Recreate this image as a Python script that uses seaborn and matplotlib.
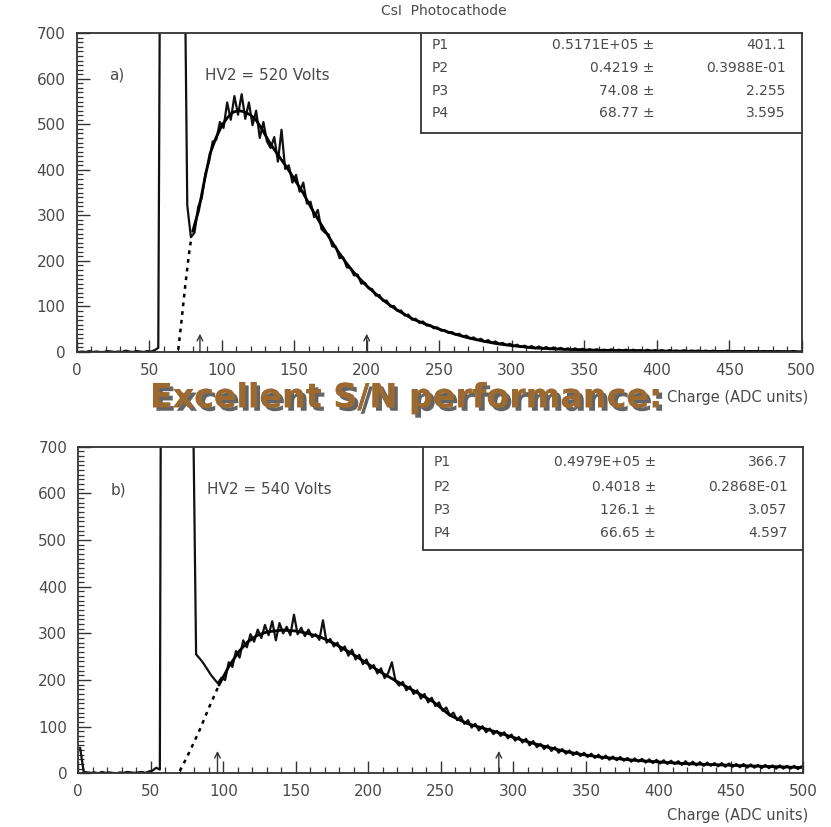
import numpy as np
import matplotlib
matplotlib.use("Agg")
import matplotlib.pyplot as plt
import matplotlib.patheffects as pe
from matplotlib.patches import Rectangle
from matplotlib.ticker import MultipleLocator
import seaborn as sns

# ---------------- data ----------------
bin_width = 2.5
# top panel (HV2 = 520 V): counts per 2.5-ADC bin, 0..500
top_counts = [0, 1, 0, 2, 0, 1, 0, 0, 2, 1, 0, 1, 0, 3, 1, 0, 2, 1, 0, 2, 1, 4, 9,
              1800, 5200, 7000, 6400, 4200, 2500, 1100,
              322, 252, 262, 318, 338, 392, 418, 462, 466, 505,
              492, 548, 510, 562, 521, 566, 512, 548, 498, 530,
              470, 505, 462, 448, 472, 418, 488, 402, 410, 372,
              389, 352, 372, 326, 330, 296, 312, 270, 262, 258,
              232, 231, 206, 208, 186, 184, 168, 170, 150, 152,
              140, 138, 124, 125, 112, 113, 100, 101, 90, 91,
              80, 82, 71, 73, 64, 67, 58, 59, 52, 54,
              47, 48, 42, 44, 38, 40, 34, 36, 30, 32,
              26, 29, 23, 26, 20, 23, 18, 20, 15, 18,
              13, 16, 11, 14, 10, 13, 8, 12, 7, 11,
              6, 10, 6, 9, 5, 8, 4, 8, 4, 7, 3,
              6, 3, 6, 2, 5, 3, 6, 2, 5, 3, 5, 2, 5, 3, 4, 2, 5, 2, 4,
              2, 4, 1, 4, 2, 3, 1, 4, 1, 3, 2, 3, 1, 3, 1, 3, 1, 2, 1, 3,
              1, 2, 1, 2, 0, 2, 1, 2, 0, 2, 1, 2, 0, 2, 1, 1, 0, 2, 1]
# bottom panel (HV2 = 540 V)
bot_counts = [55, 3, 2, 1, 2, 0, 3, 1, 2, 1, 0, 2, 1, 3, 2, 1, 2, 3, 1, 4, 6, 12, 8,
              3000, 8000, 9000, 7000, 5000, 3500, 2200, 1400, 900,
              255, 246, 236, 224, 212, 202, 193, 205,
              200, 238, 228, 262, 248, 285, 270, 298, 282, 308,
              290, 318, 296, 326, 285, 322, 300, 314, 296, 340,
              298, 312, 294, 308, 292, 298, 286, 328, 280, 288,
              272, 280, 262, 272, 252, 265, 244, 254, 234, 244,
              224, 232, 214, 225, 204, 215, 238, 198, 188, 196,
              178, 186, 170, 178, 160, 170, 152, 162, 144, 152,
              134, 141, 124, 130, 114, 122, 106, 114, 98, 106,
              92, 101, 88, 96, 84, 91, 80, 88, 75, 83,
              70, 78, 66, 74, 60, 69, 56, 63, 52, 60,
              48, 56, 44, 52, 42, 49, 39, 46, 37, 44,
              35, 42, 33, 40, 31, 38, 29, 36, 28, 35,
              27, 33, 25, 32, 25, 31, 23, 30, 22, 29,
              21, 28, 20, 27, 20, 26, 18, 26, 18, 25,
              17, 24, 16, 23, 16, 22, 15, 22, 14, 21,
              14, 20, 13, 20, 12, 19, 12, 18, 11, 18,
              11, 17, 10, 17, 10, 16, 10, 16, 9, 15]

# fit curves
top_fit_x = [70, 72, 75, 78, 80, 84, 88, 92, 96, 100, 104, 108, 112, 116, 120, 124, 128,
             133, 139, 145, 150, 156, 162, 168, 174, 180, 186, 191, 200, 209, 215, 221,
             232, 240, 250, 260, 270, 280, 290, 300, 315, 330, 350, 375, 400, 450, 500]
top_fit_y = [5, 60, 150, 230, 265, 310, 375, 436, 470, 497, 515, 527, 530, 527, 520, 508, 488,
             460, 432, 405, 380, 350, 315, 283, 252, 222, 195, 175, 145, 120, 105, 92,
             72, 62, 50, 40, 31, 24, 18, 14, 9, 6.5, 4.5, 3, 2, 1, 0.5]
top_fit_start = 79

bot_fit_x = [70, 75, 80, 84, 90, 97, 104, 111, 117, 123, 130, 141, 150, 158, 167, 176, 188,
             199, 210, 222, 233, 245, 256, 268, 280, 291, 302, 314, 325, 337, 348, 360,
             383, 417, 452, 493, 500]
bot_fit_y = [5, 35, 68, 95, 140, 189, 230, 262, 282, 295, 303, 307, 305, 300, 292, 279, 258,
             236, 214, 193, 174, 153, 125, 107, 96, 86, 75, 64, 55, 46, 40, 35,
             28, 21, 17, 13, 12.5]
bot_fit_start = 97

top_arrows = [85, 200]
bot_arrows = [96, 290]

top_params = [("P1", "0.5171E+05 \u00b1", "401.1"),
              ("P2", "0.4219 \u00b1", "0.3988E-01"),
              ("P3", "74.08 \u00b1", "2.255"),
              ("P4", "68.77 \u00b1", "3.595")]
bot_params = [("P1", "0.4979E+05 \u00b1", "366.7"),
              ("P2", "0.4018 \u00b1", "0.2868E-01"),
              ("P3", "126.1 \u00b1", "3.057"),
              ("P4", "66.65 \u00b1", "4.597")]

x_ticks = [0, 50, 100, 150, 200, 250, 300, 350, 400, 450, 500]
y_ticks = [0, 100, 200, 300, 400, 500, 600, 700]

# ---------------- plotting ----------------
sns.set_style("white")
plt.rcParams['font.family'] = ['DejaVu Sans']

fig = plt.figure(figsize=(8.31, 8.27), dpi=100)
ax1 = fig.add_axes([0.0923, 0.5744, 0.8725, 0.3854])
ax2 = fig.add_axes([0.0942, 0.0649, 0.8725, 0.3950])

grey = '#4a4a4a'


def draw_panel(ax, counts, fx, fy, fstart, arrows, params, tag, hv, rows_y, box_bottom,
               arrow_h):
    centers = np.arange(len(counts)) * bin_width + bin_width / 2
    sns.lineplot(x=centers, y=counts, ax=ax, color='#111111', lw=1.6,
                 estimator=None, sort=False)
    fx = np.asarray(fx, dtype=float)
    fy = np.asarray(fy, dtype=float)
    d = fx <= fstart
    fx_d = np.append(fx[d], fstart)
    fy_d = np.append(fy[d], np.interp(fstart, fx, fy))
    sns.lineplot(x=fx_d, y=fy_d, ax=ax, color='black', lw=1.8,
                 linestyle=(0, (1.5, 2.0)), estimator=None, sort=False)
    sns.lineplot(x=fx[fx >= fstart], y=fy[fx >= fstart], ax=ax, color='black', lw=2.0,
                 estimator=None, sort=False)
    ax.set_xlim(0, 500)
    ax.set_ylim(0, 700)
    ax.set_xticks(x_ticks)
    ax.set_yticks(y_ticks)
    ax.xaxis.set_minor_locator(MultipleLocator(10))
    ax.yaxis.set_minor_locator(MultipleLocator(10))
    ax.tick_params(which='both', bottom=True, left=True, top=False, right=False)
    ax.tick_params(which='major', direction='in', length=9, width=1.0, colors='#333333',
                   labelcolor=grey, labelsize=11, pad=8)
    ax.tick_params(which='minor', direction='in', length=4, width=0.9, colors='#333333')
    ax.set_xlabel('')
    ax.set_ylabel('')
    for sp in ax.spines.values():
        sp.set_color('#333333')
        sp.set_linewidth(1.3)
    for a in arrows:
        ax.annotate('', xy=(a, arrow_h), xytext=(a, 0),
                    arrowprops=dict(arrowstyle='->', lw=1.0, color='#333333',
                                    shrinkA=0, shrinkB=0))
    ax.text(0.045, 0.868, tag, transform=ax.transAxes, fontsize=11, color=grey,
            va='center', ha='left')
    ax.text(0.177, 0.868, hv, transform=ax.transAxes, fontsize=11, color=grey,
            va='center', ha='left')
    ax.add_patch(Rectangle((0.475, box_bottom), 0.525, 1 - box_bottom,
                           transform=ax.transAxes, fill=True, facecolor='white',
                           edgecolor='#333333', lw=1.3, zorder=5))
    for (p, v, e), yy in zip(params, rows_y):
        ax.text(0.49, yy, p, transform=ax.transAxes, fontsize=10, color=grey,
                va='center', ha='left', zorder=6)
        ax.text(0.797, yy, v, transform=ax.transAxes, fontsize=10, color=grey,
                va='center', ha='right', zorder=6)
        ax.text(0.978, yy, e, transform=ax.transAxes, fontsize=10, color=grey,
                va='center', ha='right', zorder=6)


draw_panel(ax1, top_counts, top_fit_x, top_fit_y, top_fit_start, top_arrows, top_params,
           'a)', 'HV2 = 520 Volts', [0.963, 0.891, 0.819, 0.750], 0.687, 40)
draw_panel(ax2, bot_counts, bot_fit_x, bot_fit_y, bot_fit_start, bot_arrows, bot_params,
           'b)', 'HV2 = 540 Volts', [0.953, 0.877, 0.806, 0.736], 0.684, 48)

fig.text(0.534, 0.987, 'CsI  Photocathode', ha='center', va='center', fontsize=10,
         color=grey)
fig.text(0.973, 0.519, 'Charge (ADC units)', ha='right', va='center', fontsize=10.5,
         color=grey)
fig.text(0.973, 0.0145, 'Charge (ADC units)', ha='right', va='center', fontsize=10.5,
         color=grey)
big = fig.text(0.489, 0.519, 'Excellent S/N performance:', ha='center', va='center',
               fontsize=24, fontweight='bold', color='#9c6a30', zorder=10)
big.set_path_effects([pe.withSimplePatchShadow(offset=(2.5, -2.5), shadow_rgbFace='#222222',
                                                alpha=0.7), pe.Normal()])

fig.savefig('out.png', dpi=100, facecolor='white')
